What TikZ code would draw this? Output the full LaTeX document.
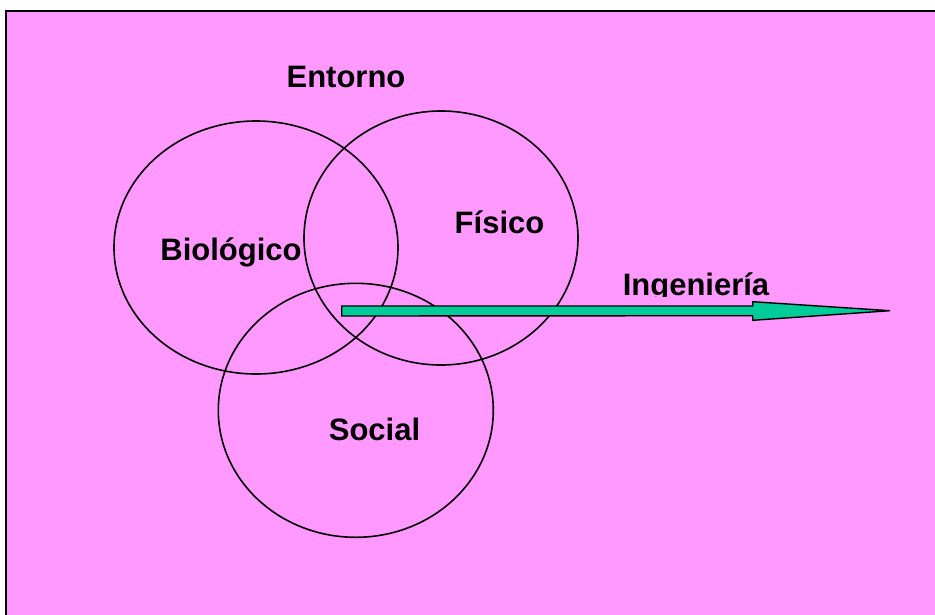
\documentclass[tikz,border=0pt]{standalone}
\usepackage{fontspec}
\setmainfont{Liberation Sans}
\usetikzlibrary{shapes.geometric,calc}
\definecolor{bgpink}{HTML}{FF99FF}
\definecolor{arrowgreen}{HTML}{00CC99}
\begin{document}
\begin{tikzpicture}[x=1pt,y=-1pt,
  ring/.style={draw=black,line width=1.6pt,ellipse,inner sep=0pt,outer sep=0pt},
  lbl/.style={anchor=base,inner sep=0pt,font=\fontsize{31}{36}\selectfont\bfseries}]
\useasboundingbox (0,0) rectangle (935,614);
\fill[white] (0,0) rectangle (935,614);
\draw[fill=bgpink,line width=2pt] (6,11) rectangle (945,625);
% ellipses
\node[ring,minimum width=284pt,minimum height=253pt] (bio) at (256,247.5) {};
\node[ring,minimum width=274pt,minimum height=254pt] (fis) at (441,238) {};
\node[ring,minimum width=275pt,minimum height=254pt] (soc) at (355.8,410.3) {};
% labels
\node[lbl] (entorno) at (346,87) {Entorno};
\node[lbl] (biologico) at (231,260.7) {Biológico};
\node[lbl] (fisico) at (499.5,233.3) {Físico};
\node[lbl] (social) at (374.5,440.7) {Social};
\begin{scope}
\clip (600,250) rectangle (800,296);
\node[lbl] (ingenieria) at (696,295.5) {Ingeniería};
\end{scope}
% arrow
\coordinate (astart) at (341.7,311);
\coordinate (atip) at (890,310.7);
\draw[fill=arrowgreen,line width=1.4pt,line join=miter]
  ($(astart)+(0,-5)$) -- (752.7,306) -- (752.7,301.7) -- (atip)
  -- (752.7,320.3) -- (752.7,315.7) -- ($(astart)+(0,5)$) -- cycle;
\end{tikzpicture}
\end{document}
